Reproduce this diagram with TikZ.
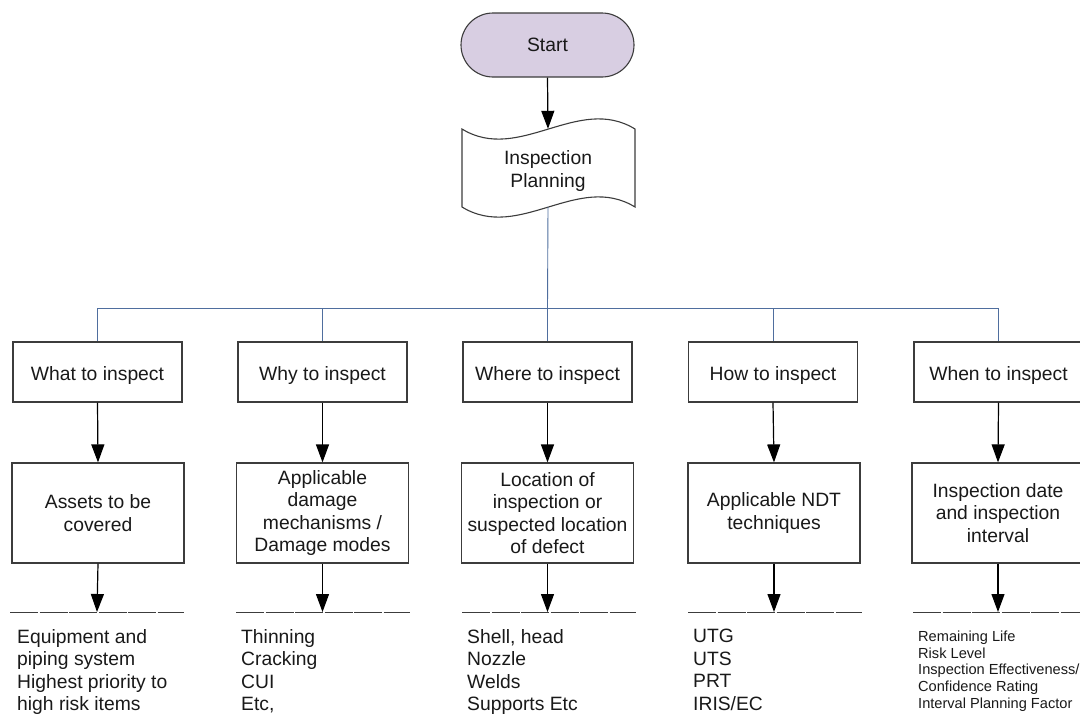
\documentclass[tikz,border=0pt]{standalone}
\usepackage{fontspec}
\setmainfont{Liberation Sans}
\usetikzlibrary{arrows.meta}
\definecolor{ln}{HTML}{3C3C3C}
\definecolor{busline}{HTML}{4F6E9E}
\definecolor{startfill}{HTML}{D8CEE2}
\begin{document}
\begin{tikzpicture}[x=1pt,y=-1pt,
  every node/.style={font=\fontsize{19.3}{22.5}\selectfont, text=black!90},
  startbox/.style={draw=ln, line width=1.1pt, fill=startfill, rounded corners=32pt,
    minimum width=173pt, minimum height=64pt, inner sep=0pt},
  topic/.style={draw=ln, line width=1.2pt, fill=white, align=center, inner sep=0pt,
    minimum width=169pt, minimum height=60pt,
    execute at begin node=\rule{0pt}{20pt}},
  detail/.style={draw=ln, line width=1.2pt, fill=white, align=center, inner sep=0pt,
    minimum width=172pt, minimum height=100pt,
    execute at begin node=\rule{0pt}{17pt}},
  items/.style={anchor=north west, align=left, inner sep=0pt},
  smallitems/.style={anchor=north west, align=left, inner sep=0pt,
    font=\fontsize{14.6}{16.6}\selectfont},
  flow/.style={draw=black, line width=1.2pt, -{Triangle[length=18pt,width=13pt]}},
  bus/.style={draw=busline, line width=0.9pt},
  rule/.style={draw=ln, line width=1pt, dash pattern=on 28pt off 1.5pt},
]
\useasboundingbox (0,0) rectangle (1080,726);

% start terminator
\node[startbox] (start) at (547.5,45) {Start};

% punched-tape shaped document
\draw[draw=ln, line width=1.1pt, fill=white]
  (462,129) .. controls (519,164) and (578,94) .. (635,129)
  -- (635,207) .. controls (578,172) and (519,242) .. (462,207) -- cycle;
\node[align=center, inner sep=0pt, minimum width=173pt, minimum height=78pt]
  (plan) at (548,168) {\rule{0pt}{20pt}Inspection\\Planning};

\draw[flow] (start.south) -- (plan.north);

% first row: the five questions
\node[topic] (q1) at (97.5,372) {What to inspect};
\node[topic] (q2) at (322.5,372) {Why to inspect};
\node[topic] (q3) at (547.5,372) {Where to inspect};
\node[topic] (q4) at (773,372) {How to inspect};
\node[topic] (q5) at (998.5,372) {When to inspect};

% distribution bus
\coordinate (hub) at (547.5,308);
\draw[bus] (plan.south) -- (hub);
\foreach \i in {1,...,5} \draw[bus] (hub) -| (q\i.north);

% second row: answers
\node[detail] (a1) at (98,513) {Assets to be\\covered};
\node[detail] (a2) at (322.5,513) {Applicable\\damage\\mechanisms /\\Damage modes};
\node[detail] (a3) at (547.5,513) {Location of\\inspection or\\suspected location\\of defect};
\node[detail] (a4) at (774,513) {Applicable NDT\\techniques};
\node[detail] (a5) at (998,513) {Inspection date\\and inspection\\interval};

\foreach \i in {1,...,5} \draw[flow] (q\i.south) -- (a\i.north);

% rules under each answer
\coordinate (r1) at (97,612);
\coordinate (r2) at (322.5,612);
\coordinate (r3) at (547.5,612);
\coordinate (r4) at (774,612);
\coordinate (r5) at (998,612);
\draw[rule] (10,612) -- (184,612);
\draw[rule] (236,612) -- (410,612);
\draw[rule] (462,612) -- (636,612);
\draw[rule] (688,612) -- (862,612);
\draw[rule] (913,612) -- (1087,612);
\foreach \i in {1,...,5} \draw[flow] (a\i.south) -- (r\i);

% item lists
\node[items] (l1) at (17,629) {Equipment and\\piping system\\Highest priority to\\high risk items};
\node[items] (l2) at (241,629) {Thinning\\Cracking\\CUI\\Etc,};
\node[items] (l3) at (467,629) {Shell, head\\Nozzle\\Welds\\Supports Etc};
\node[items] (l4) at (693,629) {UTG\\UTS\\PRT\\IRIS/EC};
\node[smallitems] (l5) at (918,631) {Remaining Life\\Risk Level\\Inspection Effectiveness/\\Confidence Rating\\Interval Planning Factor};
\end{tikzpicture}
\end{document}
